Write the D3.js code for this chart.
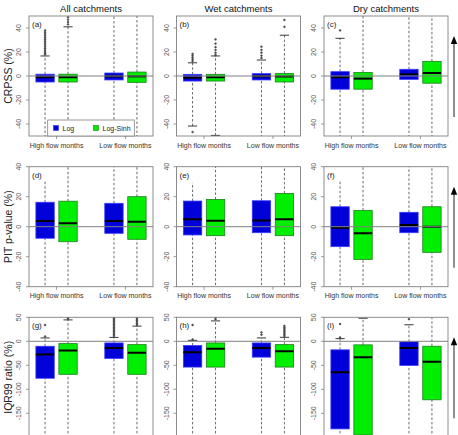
<!DOCTYPE html>
<html>
<head>
<meta charset="utf-8">
<script src="https://cdn.jsdelivr.net/npm/d3@7"></script>
<style>
  body { margin: 0; background: #fff; }
  svg { display: block; font-family: "Liberation Sans", Arial, sans-serif; }
</style>
</head>
<body>
<svg id="chart" width="458" height="435"></svg>
<script>
// categories and labels
const groups = ["High flow months", "Low flow months"];
const methods = ["Log", "Log-Sinh"];
const colTitles = ["All catchments", "Wet catchments", "Dry catchments"];
const rowLabels = ["CRPSS (%)", "PIT p-value (%)", "IQR99 ratio (%)"];
const panelTags = ["(a)", "(b)", "(c)", "(d)", "(e)", "(f)", "(g)", "(h)", "(i)"];
const rowDomains = [[-50, 50], [-40, 40], [-200, 50]];
const rowTicks = [[-40, -20, 0, 20, 40], [-40, -20, 0, 20, 40], [-150, -100, -50, 0, 50]];

// box stats: [lower whisker, q1, median, q3, upper whisker]
// order: Log/high, Log-Sinh/high, Log/low, Log-Sinh/low
const crpssAll = [[-70, -5, -1, 1.5, 16.7], [-70, -5, -1, 1.5, 41], [-70, -3.3, -0.3, 2.5, 70], [-70, -5.3, -0.3, 3.3, 70]];
const crpssWet = [[-41.7, -4.2, -1.5, 1.4, 11], [-49.5, -4.2, -1, 1.4, 16.7], [-70, -3.3, -0.3, 2, 13.3], [-70, -5, -0.5, 2, 34]];
const crpssDry = [[-70, -11, -1, 3.6, 31.4], [-70, -11, -2.2, 3, 70], [-70, -2.8, 1.4, 5.6, 70], [-70, -6, 2.5, 12.2, 70]];
const pitAll = [[-45, -7.7, 3.8, 16.3, 30], [-45, -10, 2.3, 17, 45], [-45, -4.4, 3.8, 15.6, 45], [-45, -8.4, 3.3, 20, 45]];
const pitWet = [[-45, -5.5, 4.9, 17.1, 29.3], [-45, -6, 4, 18.2, 45], [-45, -4, 4.2, 17.3, 45], [-45, -6, 4.9, 22.2, 45]];
const pitDry = [[-45, -13.3, -0.7, 13.3, 30], [-45, -21.8, -4.4, 10.9, 45], [-45, -4, 1.1, 9.6, 45], [-45, -17.1, 0, 13.3, 45]];
const iqrAll = [[-220, -77, -27.5, -10.3, 7], [-220, -68.8, -19.2, -4.8, 44.6], [-220, -35.8, -13.8, -3.4, 8.1], [-220, -68.8, -24, -6.9, 31.6]];
const iqrWet = [[-220, -53.7, -22.7, -8.9, 2], [-220, -53.7, -15.7, -3.4, 42.5], [-220, -33, -13.8, -3.4, 7], [-220, -53.7, -20.7, -6.9, 8.3]];
const iqrDry = [[-220, -182.5, -64.7, -17.8, 5.6], [-220, -195, -33, -7.4, 48], [-220, -50.2, -13.8, -1, 34.5], [-220, -121.9, -42.6, -10.3, 60]];

// outliers per box, same order
const outCrpssAll = [[18, 19, 20, 21.5, 23, 24.5, 26, 27.5, 29, 30.5, 32, 33.5, 35, 36.5, 38], [43, 45, 47, 49], [], []];
const outCrpssWet = [[-46.7, 12.5, 14, 15.5, 17, 18.5], [17.5, 19.4, 21.7, 24, 27, 30.5], [15, 17, 19.4, 21.7, 24.4], [41, 46.7]];
const outCrpssDry = [[38], [], [], []];
const outPitAll = [[], [], [], []];
const outPitWet = [[], [], [], []];
const outPitDry = [[], [], [], []];
const outIqrAll = [[10, 34], [47, 49.5], [11, 14, 17, 20, 23, 26, 29, 32, 35, 38, 41, 44, 47, 49.5], [34, 37, 40, 43, 46, 49.5]];
const outIqrWet = [[4, 34], [46, 49.5], [13.8, 18.6], [11, 14, 17, 20, 23, 26, 29, 32]];
const outIqrDry = [[8, 36], [], [46], []];

const stats = [crpssAll, crpssWet, crpssDry, pitAll, pitWet, pitDry, iqrAll, iqrWet, iqrDry];
const outliers = [outCrpssAll, outCrpssWet, outCrpssDry, outPitAll, outPitWet, outPitDry, outIqrAll, outIqrWet, outIqrDry];

const boxAt = [1, 2, 4, 5];
const groupAt = [1.5, 4.5];
const fills = ["#0000d8", "#00ee00"];
const borders = ["#3a3aff", "#1f7f1f"];

// layout
const panelW = 124, panelH = 120;
const colLeft = [29, 176.5, 324];
const rowTop = [16, 166.7, 317.3];
const grey = "#808080";

const svg = d3.select("#chart");

stats.forEach((boxes, p) => {
  const r = Math.floor(p / 3), c = p % 3;
  const left = colLeft[c], top = rowTop[r];
  const x = d3.scaleLinear().domain([0.3, 5.7]).range([left, left + panelW]);
  const y = d3.scaleLinear().domain(rowDomains[r]).range([top + panelH, top]);
  const bw = x(1.4) - x(1);

  const g = svg.append("g");
  g.append("clipPath").attr("id", "clip" + p)
    .append("rect").attr("x", left).attr("y", top).attr("width", panelW).attr("height", panelH);
  const inner = g.append("g").attr("clip-path", "url(#clip" + p + ")");

  boxes.forEach((b, i) => {
    const cx = x(boxAt[i]);
    const m = i % 2;
    // whiskers
    [[b[0], b[1]], [b[3], b[4]]].forEach(w => {
      inner.append("line")
        .attr("x1", cx).attr("x2", cx).attr("y1", y(w[0])).attr("y2", y(w[1]))
        .attr("stroke", "#444").attr("stroke-width", 0.8).attr("stroke-dasharray", "2.5,2");
    });
    if (r !== 1) {
      [b[0], b[4]].forEach(v => {
        inner.append("line")
          .attr("x1", cx - bw / 2).attr("x2", cx + bw / 2).attr("y1", y(v)).attr("y2", y(v))
          .attr("stroke", "#222").attr("stroke-width", 0.9);
      });
    }
    inner.append("rect")
      .attr("x", cx - bw).attr("width", 2 * bw)
      .attr("y", y(b[3])).attr("height", y(b[1]) - y(b[3]))
      .attr("fill", fills[m]).attr("stroke", borders[m]).attr("stroke-width", 0.8);
    inner.append("line")
      .attr("x1", cx - bw).attr("x2", cx + bw).attr("y1", y(b[2])).attr("y2", y(b[2]))
      .attr("stroke", "#000").attr("stroke-width", 2);
    inner.selectAll(null).data(outliers[p][i]).enter().append("circle")
      .attr("cx", cx).attr("cy", d => y(d)).attr("r", 0.9)
      .attr("fill", "#555").attr("stroke", "#333").attr("stroke-width", 0.5);
  });

  // zero line
  inner.append("line")
    .attr("x1", left).attr("x2", left + panelW).attr("y1", y(0)).attr("y2", y(0))
    .attr("stroke", grey).attr("stroke-width", 1);

  // frame
  g.append("rect").attr("x", left).attr("y", top).attr("width", panelW).attr("height", panelH)
    .attr("fill", "none").attr("stroke", grey).attr("stroke-width", 0.9);

  // y axis
  rowTicks[r].forEach(t => {
    g.append("line").attr("x1", left - 3).attr("x2", left).attr("y1", y(t)).attr("y2", y(t))
      .attr("stroke", grey).attr("stroke-width", 0.8);
    g.append("text")
      .attr("transform", `translate(${left - 8},${y(t)}) rotate(-90)`)
      .attr("text-anchor", "middle").attr("font-size", 7).attr("fill", "#555")
      .text(t);
  });

  // x axis (bottom row axis lies below the visible area)
  if (r < 2) {
    groups.forEach((name, k) => {
      g.append("line").attr("x1", x(groupAt[k])).attr("x2", x(groupAt[k]))
        .attr("y1", top + panelH).attr("y2", top + panelH + 3)
        .attr("stroke", grey).attr("stroke-width", 0.8);
      g.append("text").attr("x", x(groupAt[k])).attr("y", top + panelH + 11.5)
        .attr("text-anchor", "middle").attr("font-size", 7).attr("fill", "#333")
        .text(name);
    });
  }

  // panel tag
  g.append("text").attr("x", left + 3).attr("y", top + 11)
    .attr("font-size", 8).attr("fill", "#222").text(panelTags[p]);

  if (r === 0) {
    g.append("text").attr("x", left + panelW / 2).attr("y", 11.5)
      .attr("text-anchor", "middle").attr("font-size", 9.5).attr("fill", "#111")
      .text(colTitles[c]);
  }
  if (c === 0) {
    g.append("text")
      .attr("transform", `translate(12,${top + panelH / 2}) rotate(-90)`)
      .attr("text-anchor", "middle").attr("font-size", 10.5).attr("fill", "#222")
      .text(rowLabels[r]);
  }
  if (c === 2) {
    const ax = 454;
    g.append("line").attr("x1", ax).attr("x2", ax).attr("y1", top + 101).attr("y2", top + 26)
      .attr("stroke", "#444").attr("stroke-width", 1.2);
    g.append("path")
      .attr("d", `M${ax},${top + 20} L${ax - 3.2},${top + 28} L${ax + 3.2},${top + 28} Z`)
      .attr("fill", "#000");
  }

  // legend in first panel
  if (p === 0) {
    const lg = g.append("g");
    lg.append("rect").attr("x", 47.7).attr("y", 120).attr("width", 86.6).attr("height", 16)
      .attr("fill", "#fff").attr("stroke", grey).attr("stroke-width", 0.8);
    const lx = [56, 96];
    methods.forEach((name, k) => {
      lg.append("rect").attr("x", lx[k] - 2.5).attr("y", 125.5).attr("width", 5).attr("height", 5)
        .attr("fill", fills[k]).attr("stroke", borders[k]).attr("stroke-width", 0.6);
      lg.append("text").attr("x", lx[k] + 6.5).attr("y", 130.5)
        .attr("font-size", 7).attr("fill", "#222").text(name);
    });
  }
});
</script>
</body>
</html>
